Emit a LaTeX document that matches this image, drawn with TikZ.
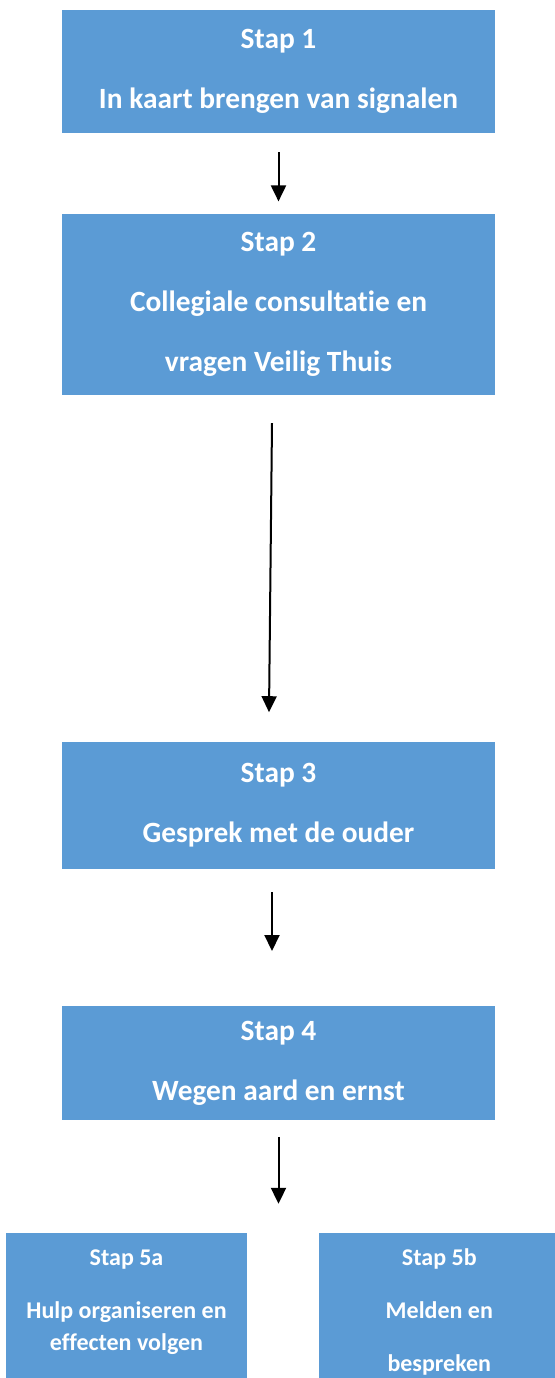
\documentclass[tikz,border=0pt]{standalone}
\usepackage{fontspec}
\setmainfont{Carlito}[Ligatures=NoCommon]
\usetikzlibrary{positioning, arrows.meta}
\definecolor{stapblue}{HTML}{5B9BD5}

\begin{document}
\begin{tikzpicture}[node distance=40pt,
    stap/.style={fill=stapblue, text=white, align=center, inner sep=0pt, minimum width=216.5pt, font=\bfseries\fontsize{14.7pt}{30pt}\selectfont},
    substap/.style={fill=stapblue, text=white, align=center, inner sep=0pt, minimum width=120.5pt, minimum height=79pt, font=\bfseries\fontsize{12pt}{16pt}\selectfont},
    pijl/.style={-{Triangle[width=7.5pt,length=8pt]}, line width=1pt}]

    \useasboundingbox (0,0) rectangle (277.5pt,-689pt);

    % the steps
    \node[stap, minimum height=61.5pt] (s1) at (139.25pt,-35.75pt) {Stap 1\\In kaart brengen van signalen};
    \node[stap, minimum height=90.5pt, below=of s1] (s2) {Stap 2\\Collegiale consultatie en\\vragen Veilig Thuis};
    \node[stap, minimum height=63.5pt, below=173pt of s2] (s3) {Stap 3\\Gesprek met de ouder};
    \node[stap, minimum height=57pt, below=68.5pt of s3] (s4) {Stap 4\\Wegen aard en ernst};
    \node[substap, below=56pt of s4.south west, anchor=north west, xshift=-28pt] (s5a) {Stap 5a\\[10.5pt]Hulp organiseren en\\effecten volgen\\[-5.5pt]\vphantom{bespreken}};
    \node[substap, right=35.5pt of s5a] (s5b) {Stap 5b\\[10.5pt]Melden en\\[10.5pt]bespreken};

    % the arrows
    \draw[pijl] ([yshift=-9.5pt]s1.south) -- ([yshift=6pt]s2.north);
    \draw[pijl] ([xshift=-3.25pt,yshift=-14pt]s2.south) -- ([xshift=-4.75pt,yshift=14.5pt]s3.north);
    \draw[pijl] ([xshift=-3.25pt,yshift=-11.5pt]s3.south) -- ([xshift=-3.25pt,yshift=27.5pt]s4.north);
    \draw[pijl] ([yshift=-8pt]s4.south) -- ([yshift=-41.5pt]s4.south);
\end{tikzpicture}
\end{document}
